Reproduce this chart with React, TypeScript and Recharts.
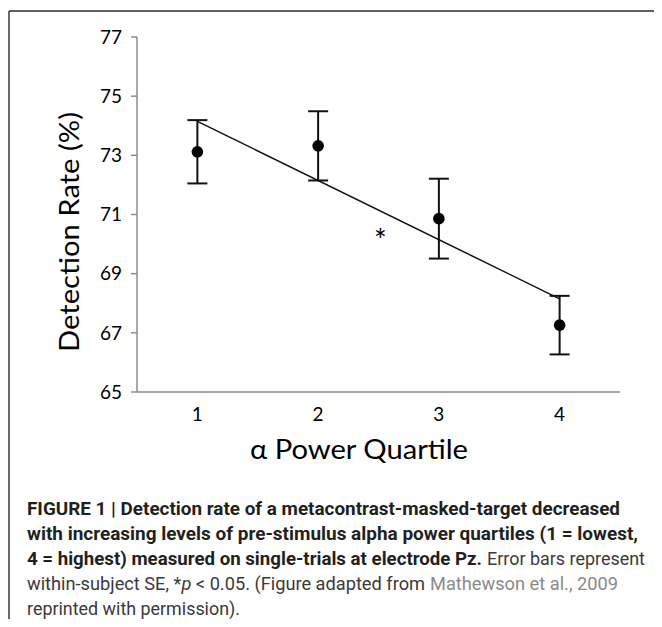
import React from 'react';
import { ComposedChart, Line, Scatter, ErrorBar, XAxis, YAxis } from 'recharts';

const quartiles = [1, 2, 3, 4];
const detectionRate = [73.12, 73.32, 70.86, 67.26];
const seError = [1.07, 1.17, 1.35, 0.99];
const yTicks = [65, 67, 69, 71, 73, 75, 77];
const xTickLabels = ['1', '2', '3', '4'];
const categoryEdges = [0.5, 1.5, 2.5, 3.5, 4.5];
const trendX = [1, 4];
const trendY = [74.15, 68.15];
const asteriskX = [2.5];
const asteriskY = [70.3];

const pointData = quartiles.map((q, i) => ({ x: q, y: detectionRate[i], err: seError[i] }));
const trendData = trendX.map((x, i) => ({ x, y: trendY[i] }));
const asteriskData = asteriskX.map((x, i) => ({ x, y: asteriskY[i] }));

const CHART_FONT = "Lato, 'Open Sans', sans-serif";
const CAPTION_FONT = "'Liberation Sans Narrow', Roboto, 'Liberation Sans', sans-serif";
const AXIS_COLOR = '#878787';

const Dot = (p: any) => <circle cx={p.cx} cy={p.cy} r={5.8} fill="#000" />;
const Asterisk = (p: any) => (
  <text x={p.cx + 2} y={p.cy + 16} textAnchor="middle" fontSize={30} fontFamily={CHART_FONT} fill="#000">*</text>
);

const YLabel = () => {
  const cx = 68;
  const cy = 232;
  return (
    <text x={cx} y={cy} transform={`rotate(-90 ${cx} ${cy})`} textAnchor="middle" dominantBaseline="central"
      fontSize={27} fontFamily={CHART_FONT} fill="#000" textLength={240} lengthAdjust="spacingAndGlyphs">
      Detection Rate (%)
    </text>
  );
};

const XLabel = () => (
  <text x={359} y={448} textAnchor="middle" dominantBaseline="central"
    fontSize={27} fontFamily={CHART_FONT} fill="#000" textLength={218} lengthAdjust="spacingAndGlyphs">
    α Power Quartile
  </text>
);

export default function App() {
  return (
    <div style={{ position: 'relative', width: 662, height: 627, margin: -8, background: '#fff', overflow: 'hidden' }}>
      <div style={{ position: 'absolute', left: 0, top: 0 }}>
        <ComposedChart width={662} height={480} margin={{ top: 37, right: 42, bottom: 48, left: 77 }}>
          <YAxis type="number" domain={[65, 77]} ticks={yTicks} width={60} stroke={AXIS_COLOR} strokeWidth={1.4}
            tickSize={6} tickMargin={9} tick={{ fill: '#000', fontSize: 19, fontFamily: CHART_FONT }}
            allowDataOverflow label={<YLabel />} />
          <XAxis xAxisId="a" type="number" dataKey="x" domain={[0.5, 4.5]} ticks={categoryEdges} tick={false}
            tickSize={6} height={10} stroke={AXIS_COLOR} strokeWidth={1.4} allowDataOverflow />
          <XAxis xAxisId="b" type="number" dataKey="x" domain={[0.5, 4.5]} ticks={quartiles}
            tickFormatter={(v: number) => xTickLabels[v - 1]} axisLine={false} tickLine={false}
            tickSize={0} tickMargin={6} height={30} allowDataOverflow
            tick={{ fill: '#000', fontSize: 19, fontFamily: CHART_FONT }} label={<XLabel />} />
          <Line xAxisId="a" data={trendData} dataKey="y" stroke="#111" strokeWidth={1.5} dot={false}
            isAnimationActive={false} />
          <Scatter xAxisId="a" data={pointData} dataKey="y" shape={<Dot />} isAnimationActive={false}>
            <ErrorBar dataKey="err" direction="y" width={10} stroke="#111" strokeWidth={2} isAnimationActive={false} />
          </Scatter>
          <Scatter xAxisId="a" data={asteriskData} dataKey="y" shape={<Asterisk />} isAnimationActive={false} />
        </ComposedChart>
      </div>
      <svg width={662} height={627} style={{ position: 'absolute', left: 0, top: 0, pointerEvents: 'none' }}>
        <line x1={9} y1={11} x2={662} y2={11} stroke="#2a2a2a" strokeWidth={1.4} />
        <line x1={9} y1={11} x2={9} y2={627} stroke="#2a2a2a" strokeWidth={1.4} />
        <g fontFamily={CAPTION_FONT} fontSize={18}>
          <text x={27} y={515} fontWeight="bold" fill="#231f20" textLength={593} lengthAdjust="spacingAndGlyphs">
            FIGURE 1 | Detection rate of a metacontrast-masked-target decreased
          </text>
          <text x={27} y={540} fontWeight="bold" fill="#231f20" textLength={611} lengthAdjust="spacingAndGlyphs">
            with increasing levels of pre-stimulus alpha power quartiles (1 = lowest,
          </text>
          <text x={27} y={565} fontWeight="bold" fill="#231f20" textLength={455} lengthAdjust="spacingAndGlyphs">
            4 = highest) measured on single-trials at electrode Pz.
          </text>
          <text x={487} y={565} fill="#3a3a3a" textLength={158} lengthAdjust="spacingAndGlyphs">
            Error bars represent
          </text>
          <text x={27} y={590} fill="#3a3a3a" textLength={398} lengthAdjust="spacingAndGlyphs">
            within-subject SE, *<tspan fontStyle="italic">p</tspan> {'<'} 0.05. (Figure adapted from
          </text>
          <text x={430} y={590} fill="#8a8a8a" textLength={188} lengthAdjust="spacingAndGlyphs">
            Mathewson et al., 2009
          </text>
          <text x={27} y={615} fill="#3a3a3a" textLength={213} lengthAdjust="spacingAndGlyphs">
            reprinted with permission).
          </text>
        </g>
      </svg>
    </div>
  );
}
